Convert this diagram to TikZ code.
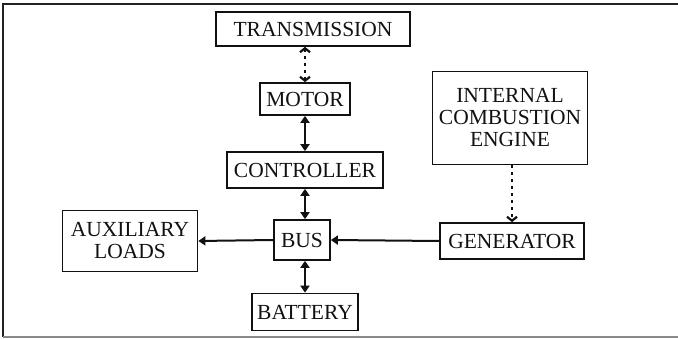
\documentclass[tikz,border=0pt]{standalone}
\usepackage{fontspec}
\setmainfont{Liberation Serif}
\usetikzlibrary{arrows.meta}
\definecolor{HEVInk}{HTML}{111111}
\definecolor{HEVFrame}{HTML}{222222}
\definecolor{HEVRule}{HTML}{8A8A8A}

\tikzset{
  hevbox/.style={draw=HEVInk, line width=1.7pt, text=HEVInk, align=center,
    inner sep=2pt, font=\fontsize{21.5}{22}\selectfont},
  powerflow/.style={draw=HEVInk, line width=2pt,
    {Triangle[length=7pt,width=9pt]}-{Triangle[length=7pt,width=9pt]}},
  powerto/.style={draw=HEVInk, line width=2pt, -{Triangle[length=7pt,width=9pt]}},
  shaftlink/.style={draw=HEVInk, line width=2.2pt, dash pattern=on 3pt off 4pt}
}

\begin{document}
\begin{tikzpicture}[x=1pt,y=-1pt]
    \useasboundingbox (0,0) rectangle (678,339);
    % frame
    \draw[HEVFrame, line width=2.2pt] (678,4) -- (3,4) -- (3,337);
    \draw[HEVRule, line width=1.5pt] (3,337) -- (678,337);
    % blocks
    \node[hevbox, minimum width=194pt, minimum height=34pt] (trans) at (313,29) {TRANSMISSION};
    \node[hevbox, minimum width=90pt, minimum height=32pt] (motor) at (305,99) {MOTOR};
    \node[hevbox, minimum width=156pt, minimum height=36pt] (ctrl) at (305,170) {CONTROLLER};
    \node[hevbox, minimum width=56pt, minimum height=40pt] (bus) at (302,240) {BUS};
    \node[hevbox, minimum width=106pt, minimum height=37pt] (batt) at (305,312) {BATTERY};
    \node[hevbox, minimum width=135pt, minimum height=61pt] (aux) at (130,241) {AUXILIARY\\LOADS};
    \node[hevbox, minimum width=155pt, minimum height=93pt] (ice) at (510,118) {INTERNAL\\COMBUSTION\\ENGINE};
    \node[hevbox, minimum width=144pt, minimum height=36pt] (gen) at (512,241) {GENERATOR};
    % mechanical links
    \draw[shaftlink, {Straight Barb[length=4pt,width=10pt]}-{Straight Barb[length=4pt,width=10pt]}]
      (trans.south -| motor.north) -- (motor.north);
    \draw[shaftlink, -{Straight Barb[length=4pt,width=10pt]}] (ice.south -| gen.north) -- (gen.north);
    % electrical links
    \draw[powerflow] (motor.south) -- (ctrl.north);
    \draw[powerflow] (ctrl.south) -- (ctrl.south |- bus.north);
    \draw[powerflow] (batt.north |- bus.south) -- (batt.north);
    \draw[powerto] (gen.west) -- (bus.east);
    \draw[powerto] (bus.west) -- (aux.east);
  \end{tikzpicture}
\end{document}
